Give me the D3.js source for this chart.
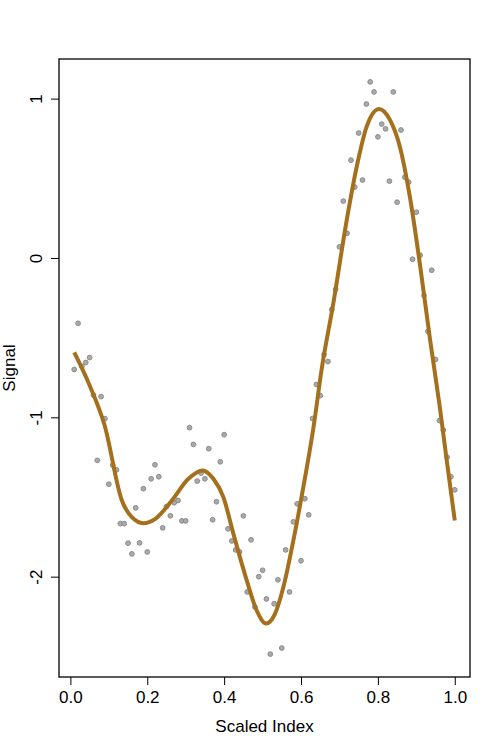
<!DOCTYPE html>
<html>
<head>
<meta charset="utf-8">
<script src="https://d3js.org/d3.v7.min.js"></script>
<style>
  body { margin: 0; background: #fff; }
  text { font-family: "Liberation Sans", Arial, sans-serif; }
</style>
</head>
<body>
<div id="chart"></div>
<script>
// scaled index of each observation
var xIndex = [0.01,0.02,0.03,0.04,0.05,0.06,0.07,0.08,0.09,0.10,
  0.11,0.12,0.13,0.14,0.15,0.16,0.17,0.18,0.19,0.20,
  0.21,0.22,0.23,0.24,0.25,0.26,0.27,0.28,0.29,0.30,
  0.31,0.32,0.33,0.34,0.35,0.36,0.37,0.38,0.39,0.40,
  0.41,0.42,0.43,0.44,0.45,0.46,0.47,0.48,0.49,0.50,
  0.51,0.52,0.53,0.54,0.55,0.56,0.57,0.58,0.59,0.60,
  0.61,0.62,0.63,0.64,0.65,0.66,0.67,0.68,0.69,0.70,
  0.71,0.72,0.73,0.74,0.75,0.76,0.77,0.78,0.79,0.80,
  0.81,0.82,0.83,0.84,0.85,0.86,0.87,0.88,0.89,0.90,
  0.91,0.92,0.93,0.94,0.95,0.96,0.97,0.98,0.99,1.00]

// observed signal
var signal = [-0.70,-0.41,-0.68,-0.656,-0.625,-0.86,-1.27,-0.87,-1.008,-1.42,
  -1.30,-1.33,-1.667,-1.667,-1.79,-1.857,-1.568,-1.788,-1.448,-1.845,
  -1.386,-1.298,-1.373,-1.694,-1.56,-1.618,-1.536,-1.522,-1.65,-1.65,
  -1.065,-1.17,-1.40,-1.35,-1.386,-1.197,-1.643,-1.53,-1.279,-1.109,
  -1.70,-1.776,-1.832,-1.845,-1.618,-2.096,-1.769,-2.19,-2.00,-1.96,
  -2.14,-2.486,-2.17,-2.02,-2.448,-1.832,-2.096,-1.656,-1.543,-1.90,
  -1.511,-1.612,-1.008,-0.794,-0.864,-0.606,-0.65,-0.323,-0.197,0.07,
  0.357,0.155,0.614,0.445,0.784,0.489,0.966,1.105,1.042,0.76,
  0.84,0.81,0.482,1.042,0.35,0.803,0.507,0.476,-0.008,0.287,
  0.017,-0.235,-0.461,-0.077,-0.637,-1.02,-1.08,-1.25,-1.373,-1.455]

// smooth fit
var fitX = [0.01,0.048,0.089,0.134,0.16,0.19,0.221,0.264,0.307,0.344,
  0.372,0.398,0.424,0.459,0.485,0.509,0.532,0.554,0.58,0.606,
  0.632,0.654,0.684,0.719,0.745,0.771,0.803,0.831,0.857,0.883,
  0.909,0.935,0.961,0.978,1.0]
var fitY = [-0.593,-0.788,-1.05,-1.522,-1.627,-1.665,-1.637,-1.522,-1.386,-1.333,
  -1.386,-1.501,-1.73,-2.025,-2.214,-2.294,-2.235,-2.067,-1.774,-1.438,
  -1.07,-0.694,-0.285,0.239,0.574,0.826,0.935,0.868,0.70,0.386,
  -0.034,-0.50,-0.935,-1.25,-1.648]

var xTicks = [0, 0.2, 0.4, 0.6, 0.8, 1.0]
var yTicks = [-2, -1, 0, 1]

var margin = {top: 59, right: 30, bottom: 73, left: 59},
    width = 500 - margin.left - margin.right,
    height = 750 - margin.top - margin.bottom;

var svg = d3.select("#chart")
  .append("svg")
    .attr("width", 500)
    .attr("height", 750)
  .append("g")
    .attr("transform", "translate(" + margin.left + "," + margin.top + ")");

// R style 4% padding around the data range
function pad(ext) {
  var d = (ext[1] - ext[0]) * 0.04
  return [ext[0] - d, ext[1] + d]
}

var x = d3.scaleLinear()
  .domain(pad(d3.extent(xIndex)))
  .range([0, width]);

var y = d3.scaleLinear()
  .domain(pad(d3.extent(signal)))
  .range([height, 0]);

// x axis
var xAxis = svg.append("g")
  .attr("transform", "translate(0," + height + ")")
  .call(d3.axisBottom(x).tickValues(xTicks).tickFormat(d3.format(".1f")).tickSize(8).tickPadding(6));
xAxis.select(".domain").remove();
xAxis.selectAll("line").attr("stroke", "#000");
xAxis.selectAll("text").attr("font-size", 17).attr("fill", "#000")
  .attr("font-family", "Liberation Sans, Arial, sans-serif");

// y axis, labels turned like R (plain hyphen minus)
var yAxis = svg.append("g")
  .call(d3.axisLeft(y).tickValues(yTicks).tickFormat(function(d) { return String(d) }).tickSize(8));
yAxis.select(".domain").remove();
yAxis.selectAll("line").attr("stroke", "#000");
yAxis.selectAll("text")
  .attr("font-size", 17).attr("fill", "#000")
  .attr("font-family", "Liberation Sans, Arial, sans-serif")
  .attr("x", null).attr("dy", null)
  .attr("text-anchor", "middle")
  .attr("transform", "translate(-17,0) rotate(-90)");

// box
svg.append("rect")
  .attr("width", width)
  .attr("height", height)
  .attr("fill", "none")
  .attr("stroke", "#000")
  .attr("stroke-width", 1.3);

// points
svg.selectAll("circle")
  .data(signal)
  .enter()
  .append("circle")
    .attr("cx", function(d, i) { return x(xIndex[i]) })
    .attr("cy", function(d) { return y(d) })
    .attr("r", 2.4)
    .attr("fill", "#aaaaaa")
    .attr("stroke", "#858585")
    .attr("stroke-width", 0.9);

// fitted curve
svg.append("path")
  .datum(fitX)
  .attr("d", d3.line()
    .x(function(d) { return x(d) })
    .y(function(d, i) { return y(fitY[i]) })
    .curve(d3.curveMonotoneX)
  )
  .attr("fill", "none")
  .attr("stroke", "#a5701e")
  .attr("stroke-width", 4);

// axis titles
svg.append("text")
  .attr("x", width / 2)
  .attr("y", height + 55)
  .attr("text-anchor", "middle")
  .attr("font-size", 17)
  .text("Scaled Index");

svg.append("text")
  .attr("transform", "translate(" + (15 - margin.left) + "," + (height / 2) + ") rotate(-90)")
  .attr("text-anchor", "middle")
  .attr("font-size", 17)
  .text("Signal");
</script>
</body>
</html>
